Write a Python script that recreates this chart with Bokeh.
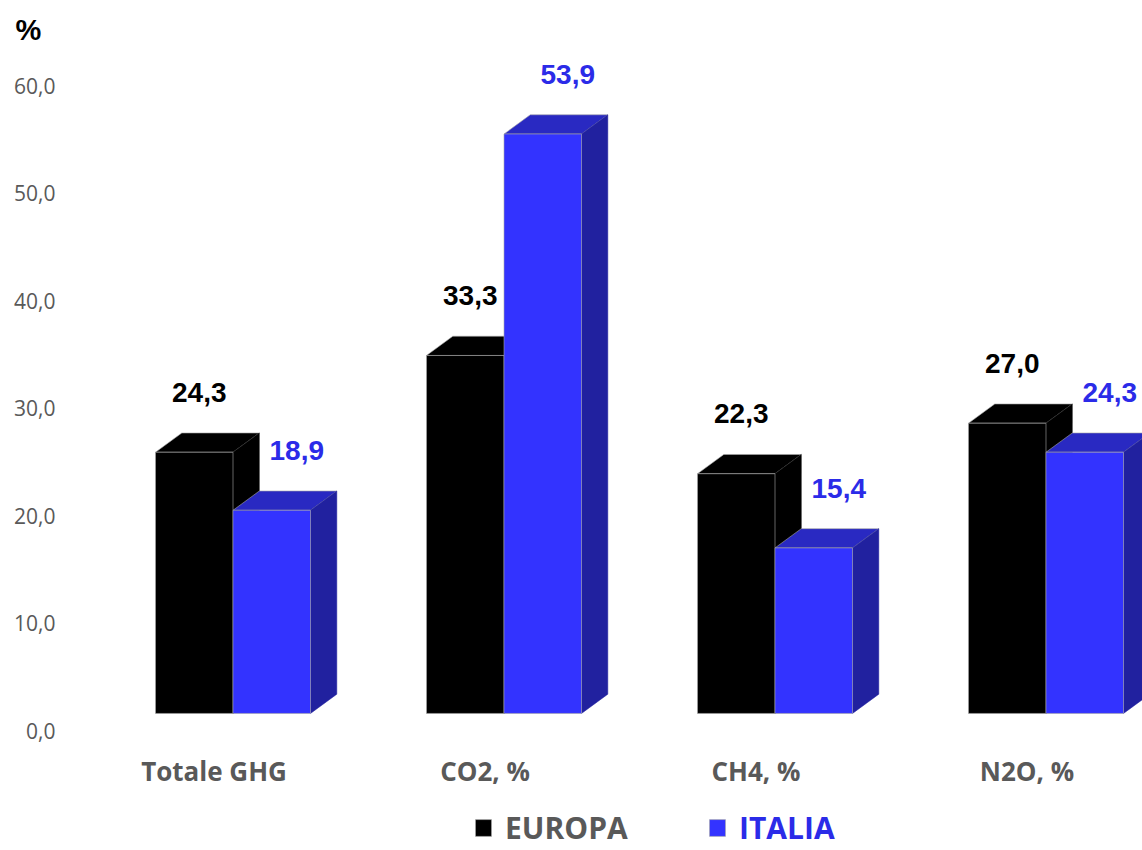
from bokeh.plotting import figure
from bokeh.models import FixedTicker, Range1d, Legend, LegendItem
from bokeh.core.properties import value
from bokeh.embed import file_html
from bokeh.resources import INLINE

# ---------------- data ----------------
categories = ["Totale GHG", "CO2, %", "CH4, %", "N2O, %"]
europa = [24.3, 33.3, 22.3, 27.0]
italia = [18.9, 53.9, 15.4, 24.3]
series_names = ["EUROPA", "ITALIA"]
y_ticks = [0, 10, 20, 30, 40, 50, 60]
y_tick_labels = ["0,0", "10,0", "20,0", "30,0", "40,0", "50,0", "60,0"]

# ---------------- style / layout constants ----------------
BAR_W = 0.286      # width of one bar front (x units)
DX = 0.097         # 3D depth, x
DY = 1.79          # 3D depth, y
BASE = 1.63        # floor of the bars relative to the value axis
LABEL_GAP = 7.2    # value label distance above value
CAT_Y = -3.7       # category label position

GREY = "#595959"
BLUE_TXT = "#2B2BE8"
styles = [
    dict(front="#000000", top="#000000", side="#000000", text="#000000", lab_dx=5),
    dict(front="#3333FF", top="#2929C2", side="#21219F", text=BLUE_TXT, lab_dx=25),
]


def fmt(v):
    return f"{v:.1f}".replace(".", ",")


p = figure(width=1142, height=850, output_backend="svg", toolbar_location=None,
           x_range=Range1d(-0.6292, 3.3561), y_range=Range1d(-11.12, 63.30),
           x_axis_location=None,
           min_border_left=62, min_border_right=0, min_border_top=50, min_border_bottom=0)

p.outline_line_color = None
p.grid.visible = False
p.background_fill_color = "white"
p.border_fill_color = "white"

p.title.text = "%"
p.title.align = "left"
p.title.offset = -47
p.title.standoff = 10
p.title.text_font = "Liberation Sans"
p.title.text_font_style = "bold"
p.title.text_font_size = "29px"
p.title.text_color = "#000000"

ax = p.yaxis[0]
ax.ticker = FixedTicker(ticks=y_ticks)
ax.major_label_overrides = {t: l for t, l in zip(y_ticks, y_tick_labels)}
ax.major_label_text_font = "Open Sans"
ax.major_label_text_font_size = "21px"
ax.major_label_text_color = GREY
ax.axis_line_color = None
ax.major_tick_line_color = None
ax.minor_tick_line_color = None
ax.major_tick_out = 0
ax.major_tick_in = 0
ax.major_label_standoff = 7

n = len(categories)
fronts = []
for s, vals in enumerate([europa, italia]):
    st = styles[s]
    xl = [i - BAR_W + s * BAR_W for i in range(n)]
    xr = [x + BAR_W for x in xl]
    tops = [BASE + v for v in vals]
    top_xs = [[l, l + DX, r + DX, r] for l, r in zip(xl, xr)]
    top_ys = [[t, t + DY, t + DY, t] for t in tops]
    side_xs = [[r, r, r + DX, r + DX] for r in xr]
    side_ys = [[BASE, t, t + DY, BASE + DY] for t in tops]
    p.patches(top_xs, top_ys, fill_color=st["top"], line_color="#A6A6A6",
              line_alpha=0.6, line_width=1)
    p.patches(side_xs, side_ys, fill_color=st["side"], line_color=st["side"],
              line_width=0.5)
    centers = [(l + r) / 2 for l, r in zip(xl, xr)]
    fr = p.vbar(x=centers, width=BAR_W, bottom=BASE, top=tops,
                fill_color=st["front"], line_color="#A6A6A6", line_alpha=0.6,
                line_width=1)
    fronts.append(fr)
    p.text(x=centers, y=[v + LABEL_GAP for v in vals], text=[fmt(v) for v in vals],
           x_offset=st["lab_dx"], text_align="center", text_baseline="middle",
           text_font=value("Liberation Sans"), text_font_style="bold",
           text_font_size="28px", text_color=st["text"])

# category labels
p.text(x=list(range(n)), y=[CAT_Y] * n, text=categories, x_offset=-19,
       text_align="center", text_baseline="middle",
       text_font=value("Open Sans"), text_font_style="bold",
       text_font_size="26px", text_color=GREY)

# legends (two, for two label colours)
leg_colors = [GREY, BLUE_TXT]
leg_pos = [(411, 2), (645, 2)]
for name, fr, col, pos in zip(series_names, fronts, leg_colors, leg_pos):
    leg = Legend(items=[LegendItem(label=name, renderers=[fr])], location=pos,
                 padding=0, margin=0, border_line_color=None,
                 background_fill_alpha=0, glyph_width=20, glyph_height=21,
                 label_height=21, label_standoff=12,
                 label_text_font="Open Sans", label_text_font_style="bold",
                 label_text_font_size="30px", label_text_color=col)
    p.add_layout(leg)

open("out.html", "w").write(file_html(p, INLINE))
